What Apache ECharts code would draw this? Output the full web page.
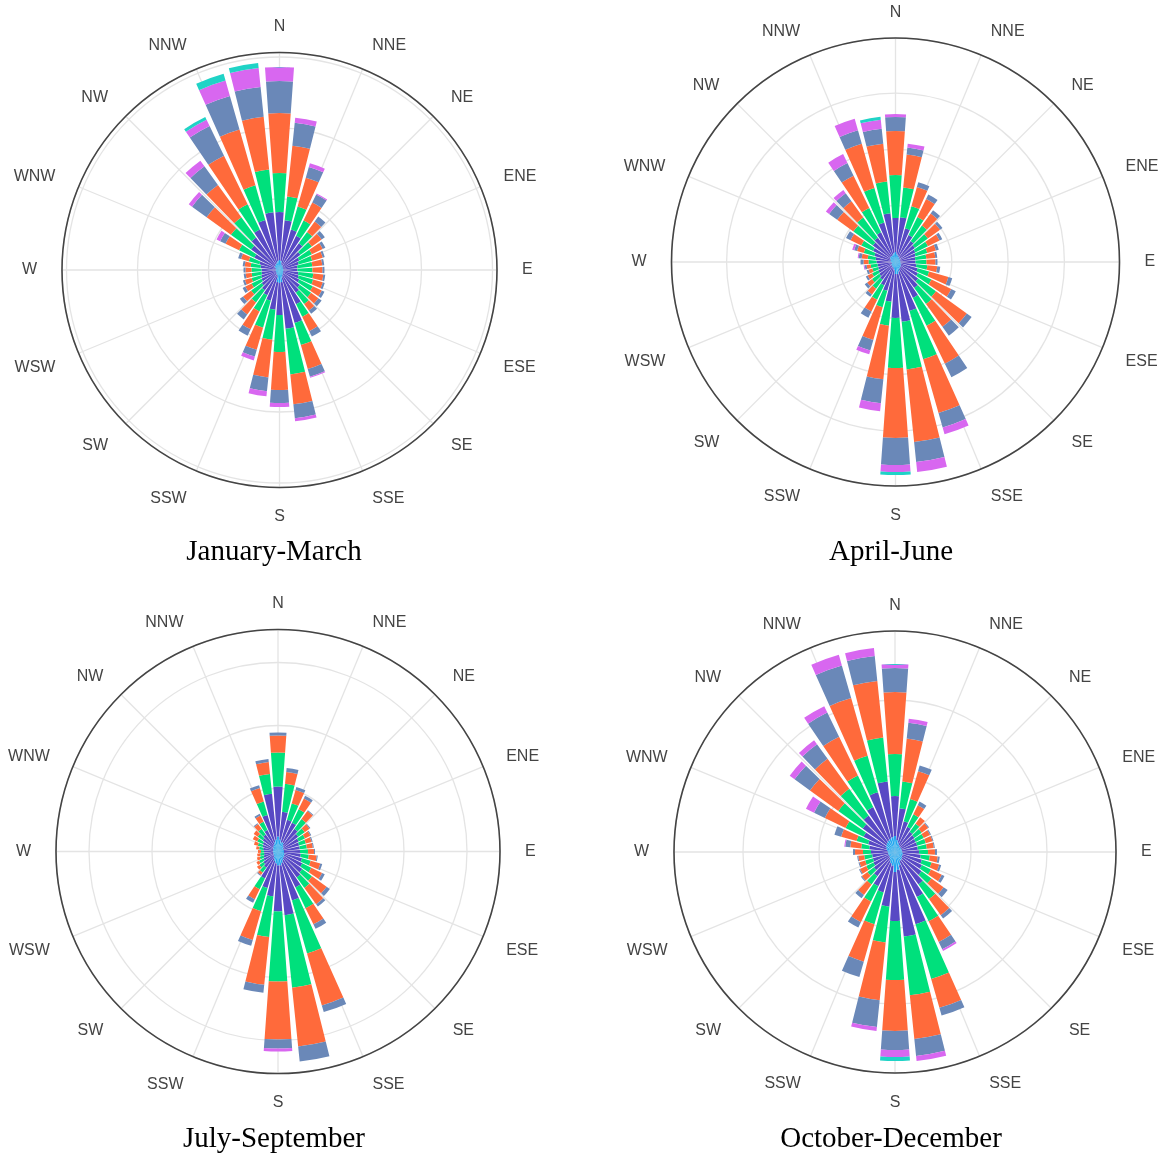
<!DOCTYPE html>
<html><head><meta charset="utf-8">
<script src="https://cdn.jsdelivr.net/npm/echarts@6/dist/echarts.min.js"></script>
<style>html,body{margin:0;padding:0;background:#fff}#c{width:1168px;height:1158px}</style>
</head><body><div id="c"></div><script>
// 36 direction bins (bin centre, degrees clockwise from north)
const dirBins = ['0','10','20','30','40','50','60','70','80','90','100','110','120','130','140','150','160','170',
  '180','190','200','210','220','230','240','250','260','270','280','290','300','310','320','330','340','350'];
const compass = ['N','NNE','NE','ENE','E','ESE','SE','SSE','S','SSW','SW','WSW','W','WNW','NW','NNW'];
const speedClasses = ['class 1','class 2','class 3','class 4','class 5','class 6','class 7'];
const titles = ['January-March','April-June','July-September','October-December'];

// January-March: frequency per speed class, per direction bin
const jm1 = [10,9,6,5,5,4,4,4,4,4,4,4,4,5,5,6,8,12,13,12,6,5,5,4,4,4,4,4,4,4,5,6,6,7,8,9];
const jm2 = [48,41,36,33,28,22,18,16,14,14,15,16,18,20,23,32,47,47,32,28,26,23,20,18,16,15,14,14,15,17,23,29,34,38,44,49];
const jm3 = [39,24,24,17,14,14,14,14,15,15,15,15,15,14,14,14,23,46,37,30,28,18,15,13,11,10,10,10,10,11,17,25,25,28,36,43];
const jm4 = [60,51,30,20,13,12,12,11,10,10,10,10,10,9,8,16,25,30,38,38,23,20,15,10,7,7,6,6,6,8,15,30,40,54,58,53];
const jm5 = [32,23,11,9,6,4,3,2,2,2,2,2,3,4,4,6,8,14,13,14,7,7,6,4,3,2,2,2,2,3,6,18,23,33,35,30];
const jm6 = [14,5,4,1,0,0,0,0,0,0,0,0,0,0,0,0,1,3,4,5,4,0,0,0,0,0,0,0,0,0,4,4,7,7,16,19];
const jm7 = [0,0,0,0,0,0,0,0,0,0,0,0,0,0,0,0,0,0,0,0,0,0,0,0,0,0,0,0,0,0,0,0,0,3,7,5];

// April-June
const aj1 = [10,8,7,6,6,5,5,5,5,5,5,6,6,7,7,8,10,12,12,8,6,6,5,5,5,4,4,5,5,5,6,7,7,7,8,9];
const aj2 = [34,37,28,24,20,19,17,16,15,15,16,17,19,21,25,32,41,48,44,32,24,20,17,15,14,14,14,14,15,17,19,21,23,26,33,40];
const aj3 = [43,30,23,20,19,16,14,12,11,11,11,12,15,22,20,31,50,48,50,24,17,16,11,9,7,6,7,8,8,11,13,24,25,27,36,32];
const aj4 = [44,33,20,20,15,15,13,9,9,9,10,20,22,38,28,42,56,73,70,54,34,13,7,6,5,4,4,5,6,7,12,20,20,36,46,38];
const aj5 = [14,7,5,5,4,3,3,3,2,2,3,4,5,6,11,15,15,20,27,24,11,7,3,3,2,2,2,3,3,3,5,10,10,14,14,15];
const aj6 = [3,4,0,0,0,0,0,0,0,0,0,0,0,0,0,0,7,10,7,8,4,0,0,0,0,0,1,0,1,2,0,4,4,10,12,9];
const aj7 = [0,0,0,0,0,0,0,0,0,0,0,0,0,0,0,0,0,0,3,0,0,0,0,0,0,0,0,0,0,0,0,0,0,0,0,3];

// July-September
const js1 = [15,12,10,10,8,7,6,6,6,6,6,7,7,8,8,10,12,14,14,12,10,8,6,6,5,5,5,5,5,5,6,6,7,8,10,12];
const js2 = [50,28,23,22,20,18,17,16,16,16,17,18,20,22,24,30,39,50,46,33,28,22,14,12,11,10,9,9,10,11,11,13,14,16,28,46];
const js3 = [34,28,17,15,12,8,7,7,7,8,8,9,10,12,13,23,55,73,70,41,24,12,6,5,5,4,4,3,4,5,6,6,7,9,14,20];
const js4 = [17,12,14,12,10,6,6,6,6,6,8,10,12,18,20,18,54,59,58,48,30,11,3,3,3,3,3,3,3,4,5,5,6,7,14,12];
const js5 = [3,4,3,3,1,1,1,1,1,1,1,2,3,4,3,5,7,15,9,8,6,4,1,0,0,0,0,0,0,0,0,0,1,2,3,3];
const js6 = [0,0,0,0,0,0,0,0,0,0,0,0,0,0,0,0,0,0,3,0,0,0,0,0,0,0,0,0,0,0,0,0,0,0,0,0];
const js7 = [0,0,0,0,0,0,0,0,0,0,0,0,0,0,0,0,0,0,0,0,0,0,0,0,0,0,0,0,0,0,0,0,0,0,0,0];

// October-December
const od1 = [16,12,10,8,7,7,7,7,7,7,8,8,8,9,10,10,14,18,20,14,12,10,8,7,7,7,7,7,8,9,10,11,12,13,14,15];
const od2 = [40,32,22,20,18,17,16,16,16,17,18,20,22,24,30,40,61,67,49,41,30,28,22,19,17,16,16,17,18,19,25,29,33,37,48,56];
const od3 = [42,27,23,14,10,9,9,9,9,9,9,10,10,12,18,27,57,59,59,36,33,17,10,8,8,8,8,8,8,12,20,30,33,35,38,44];
const od4 = [62,43,29,10,8,8,7,7,7,7,8,8,12,15,20,23,30,44,51,58,39,23,13,7,7,6,6,8,11,16,23,35,37,43,60,57];
const od5 = [24,16,6,4,0,1,1,1,1,2,2,2,3,5,4,8,8,17,19,27,16,6,4,1,1,1,1,2,5,7,12,19,18,27,34,25];
const od6 = [4,4,0,0,0,0,0,0,0,0,0,0,0,0,0,2,0,5,7,4,0,0,0,0,0,0,0,0,1,0,9,6,5,7,11,8];
const od7 = [0,0,0,0,0,0,0,0,0,0,0,0,0,0,0,0,0,0,4,0,0,0,0,0,0,0,0,0,0,0,0,0,0,0,0,0];

const colors = ['#1fa6f0','#5849c4','#00e07c','#ff6a3b','#6a88b8','#d867f0','#1fd3c6'];

const panels = [
  {title: titles[0], center: [279.5, 270], radius: 217.5, rmax: 217.5, step: 71, titlePos: [274, 552],
   data: [jm1, jm2, jm3, jm4, jm5, jm6, jm7]},
  {title: titles[1], center: [895.5, 262], radius: 224, rmax: 224, step: 56.3, titlePos: [891, 552],
   data: [aj1, aj2, aj3, aj4, aj5, aj6, aj7]},
  {title: titles[2], center: [278, 851.5], radius: 222, rmax: 222, step: 63, titlePos: [274, 1139],
   data: [js1, js2, js3, js4, js5, js6, js7]},
  {title: titles[3], center: [895, 852], radius: 221, rmax: 221, step: 76, titlePos: [891, 1139],
   data: [od1, od2, od3, od4, od5, od6, od7]}
];

const polar = [], angleAxis = [], radiusAxis = [], series = [], graphic = [];
const gridColor = '#e4e4e4';
panels.forEach((p, k) => {
  const gi = 2 * k, bi = 2 * k + 1;
  polar.push({center: p.center, radius: p.radius});
  polar.push({center: p.center, radius: p.radius});
  // grid + compass labels
  angleAxis.push({
    polarIndex: gi, type: 'value', min: 0, max: 360, interval: 22.5, startAngle: 90, clockwise: true,
    axisLine: {show: true, lineStyle: {color: '#444', width: 1.6}},
    axisTick: {show: false},
    axisLabel: {show: true, margin: 25, color: '#444', fontSize: 16, lineHeight: 1, padding: [4, 0, 0, 0],
      fontFamily: 'Liberation Sans, Arial, sans-serif',
      formatter: v => compass[Math.round(v / 22.5) % 16]},
    splitLine: {show: true, lineStyle: {color: gridColor, width: 1.3}}
  });
  radiusAxis.push({
    polarIndex: gi, type: 'value', min: 0, max: p.rmax, interval: p.step,
    axisLine: {show: false}, axisTick: {show: false}, axisLabel: {show: false},
    splitLine: {show: true, lineStyle: {color: gridColor, width: 1.3}}
  });
  // bars
  angleAxis.push({
    polarIndex: bi, type: 'category', data: dirBins, startAngle: 95, clockwise: true, boundaryGap: true,
    axisLine: {show: false}, axisTick: {show: false}, axisLabel: {show: false}, splitLine: {show: false}
  });
  radiusAxis.push({
    polarIndex: bi, type: 'value', min: 0, max: p.rmax,
    axisLine: {show: false}, axisTick: {show: false}, axisLabel: {show: false}, splitLine: {show: false}
  });
  p.data.forEach((arr, j) => {
    series.push({
      type: 'bar', coordinateSystem: 'polar', polarIndex: bi, stack: 'rose' + k,
      name: speedClasses[j], data: arr, barCategoryGap: '18%',
      itemStyle: {color: colors[j]}, emphasis: {disabled: true}, silent: true
    });
  });
  graphic.push({
    type: 'text', x: p.titlePos[0], y: p.titlePos[1],
    style: {text: p.title, align: 'center', verticalAlign: 'middle', fontSize: 29,
      fontFamily: 'Liberation Serif, Times New Roman, serif', fill: '#000'}
  });
});

const chart = echarts.init(document.getElementById('c'), null, {renderer: 'canvas'});
chart.setOption({
  animation: false, backgroundColor: '#fff',
  polar, angleAxis, radiusAxis, series, graphic
});
</script></body></html>
